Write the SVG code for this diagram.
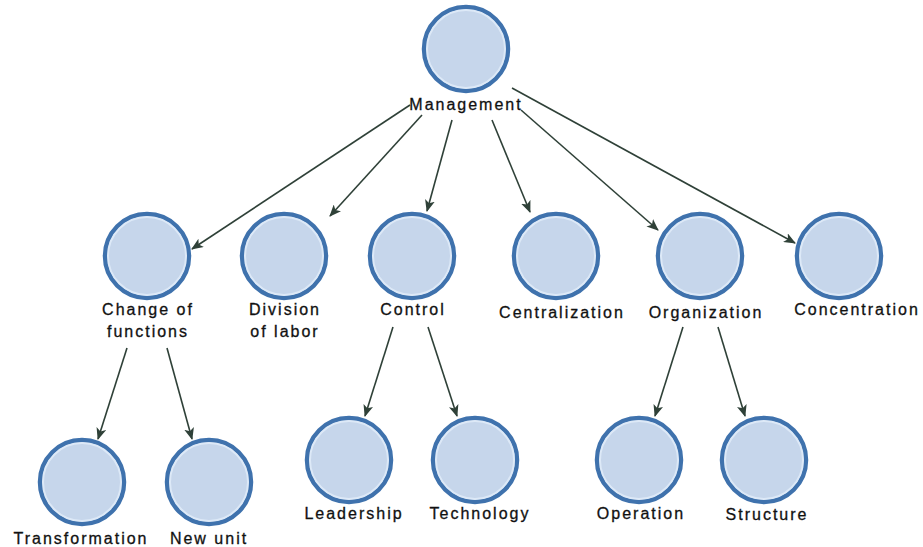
<svg xmlns="http://www.w3.org/2000/svg" width="923" height="547" viewBox="0 0 923 547">
  <defs>
    <style>
      .node circle.o { fill: #c6d6eb; stroke: #3f72ad; stroke-width: 4.5; }
      .node circle.i { fill: none; stroke: #dde9f7; stroke-width: 2; }
      .node text { font-family: "Liberation Sans", Arial, sans-serif; font-size: 16px; letter-spacing: 2px; fill: #111111; stroke: #111111; stroke-width: 0.3; text-anchor: middle; }
      .edge { stroke: #2f4138; stroke-width: 1.6; fill: none; marker-end: url(#arr); }
    </style>
    <marker id="arr" viewBox="0 0 12 10" refX="11" refY="5" markerWidth="12" markerHeight="10" markerUnits="userSpaceOnUse" orient="auto">
      <path d="M0,0 L12,5 L0,10 L3,5 Z" fill="#2f4138"/>
    </marker>
  </defs>
  <rect width="923" height="547" fill="#ffffff"/>
  <g id="connectors">
    <line class="edge" x1="410" y1="105" x2="192" y2="249"/>
    <line class="edge" x1="422" y1="115" x2="330" y2="216"/>
    <line class="edge" x1="452" y1="120" x2="427" y2="211"/>
    <line class="edge" x1="492" y1="120" x2="530" y2="212"/>
    <line class="edge" x1="521" y1="110" x2="658" y2="230"/>
    <line class="edge" x1="512" y1="88" x2="795" y2="243"/>
    <line class="edge" x1="127" y1="348" x2="98" y2="439"/>
    <line class="edge" x1="167" y1="348" x2="192" y2="439"/>
    <line class="edge" x1="393" y1="327" x2="365" y2="416"/>
    <line class="edge" x1="428" y1="327" x2="457" y2="416"/>
    <line class="edge" x1="683" y1="327" x2="655" y2="416"/>
    <line class="edge" x1="718" y1="327" x2="745" y2="416"/>
  </g>
  <g id="management" class="node">
    <circle class="o" cx="466" cy="49" r="42"/><circle class="i" cx="466" cy="49" r="39"/>
    <text x="466" y="110">Management</text>
  </g>
  <g id="change-of-functions" class="node">
    <circle class="o" cx="147" cy="256" r="42"/><circle class="i" cx="147" cy="256" r="39"/>
    <text x="148" y="315">Change of</text>
    <text x="148" y="337">functions</text>
  </g>
  <g id="division-of-labor" class="node">
    <circle class="o" cx="284" cy="256" r="42"/><circle class="i" cx="284" cy="256" r="39"/>
    <text x="285" y="315">Division</text>
    <text x="285" y="337">of labor</text>
  </g>
  <g id="control" class="node">
    <circle class="o" cx="412" cy="256" r="42"/><circle class="i" cx="412" cy="256" r="39"/>
    <text x="413" y="315">Control</text>
  </g>
  <g id="centralization" class="node">
    <circle class="o" cx="556" cy="256" r="42"/><circle class="i" cx="556" cy="256" r="39"/>
    <text x="562" y="318">Centralization</text>
  </g>
  <g id="organization" class="node">
    <circle class="o" cx="700" cy="256" r="42"/><circle class="i" cx="700" cy="256" r="39"/>
    <text x="706" y="318">Organization</text>
  </g>
  <g id="concentration" class="node">
    <circle class="o" cx="839" cy="256" r="42"/><circle class="i" cx="839" cy="256" r="39"/>
    <text x="857" y="315">Concentration</text>
  </g>
  <g id="transformation" class="node">
    <circle class="o" cx="82" cy="482" r="42"/><circle class="i" cx="82" cy="482" r="39"/>
    <text x="81" y="544">Transformation</text>
  </g>
  <g id="new-unit" class="node">
    <circle class="o" cx="209" cy="482" r="42"/><circle class="i" cx="209" cy="482" r="39"/>
    <text x="209" y="544">New unit</text>
  </g>
  <g id="leadership" class="node">
    <circle class="o" cx="349" cy="460" r="42"/><circle class="i" cx="349" cy="460" r="39"/>
    <text x="354" y="519">Leadership</text>
  </g>
  <g id="technology" class="node">
    <circle class="o" cx="475" cy="460" r="42"/><circle class="i" cx="475" cy="460" r="39"/>
    <text x="480" y="519">Technology</text>
  </g>
  <g id="operation" class="node">
    <circle class="o" cx="639" cy="460" r="42"/><circle class="i" cx="639" cy="460" r="39"/>
    <text x="641" y="519">Operation</text>
  </g>
  <g id="structure" class="node">
    <circle class="o" cx="764" cy="460" r="42"/><circle class="i" cx="764" cy="460" r="39"/>
    <text x="767" y="520">Structure</text>
  </g>
</svg>
